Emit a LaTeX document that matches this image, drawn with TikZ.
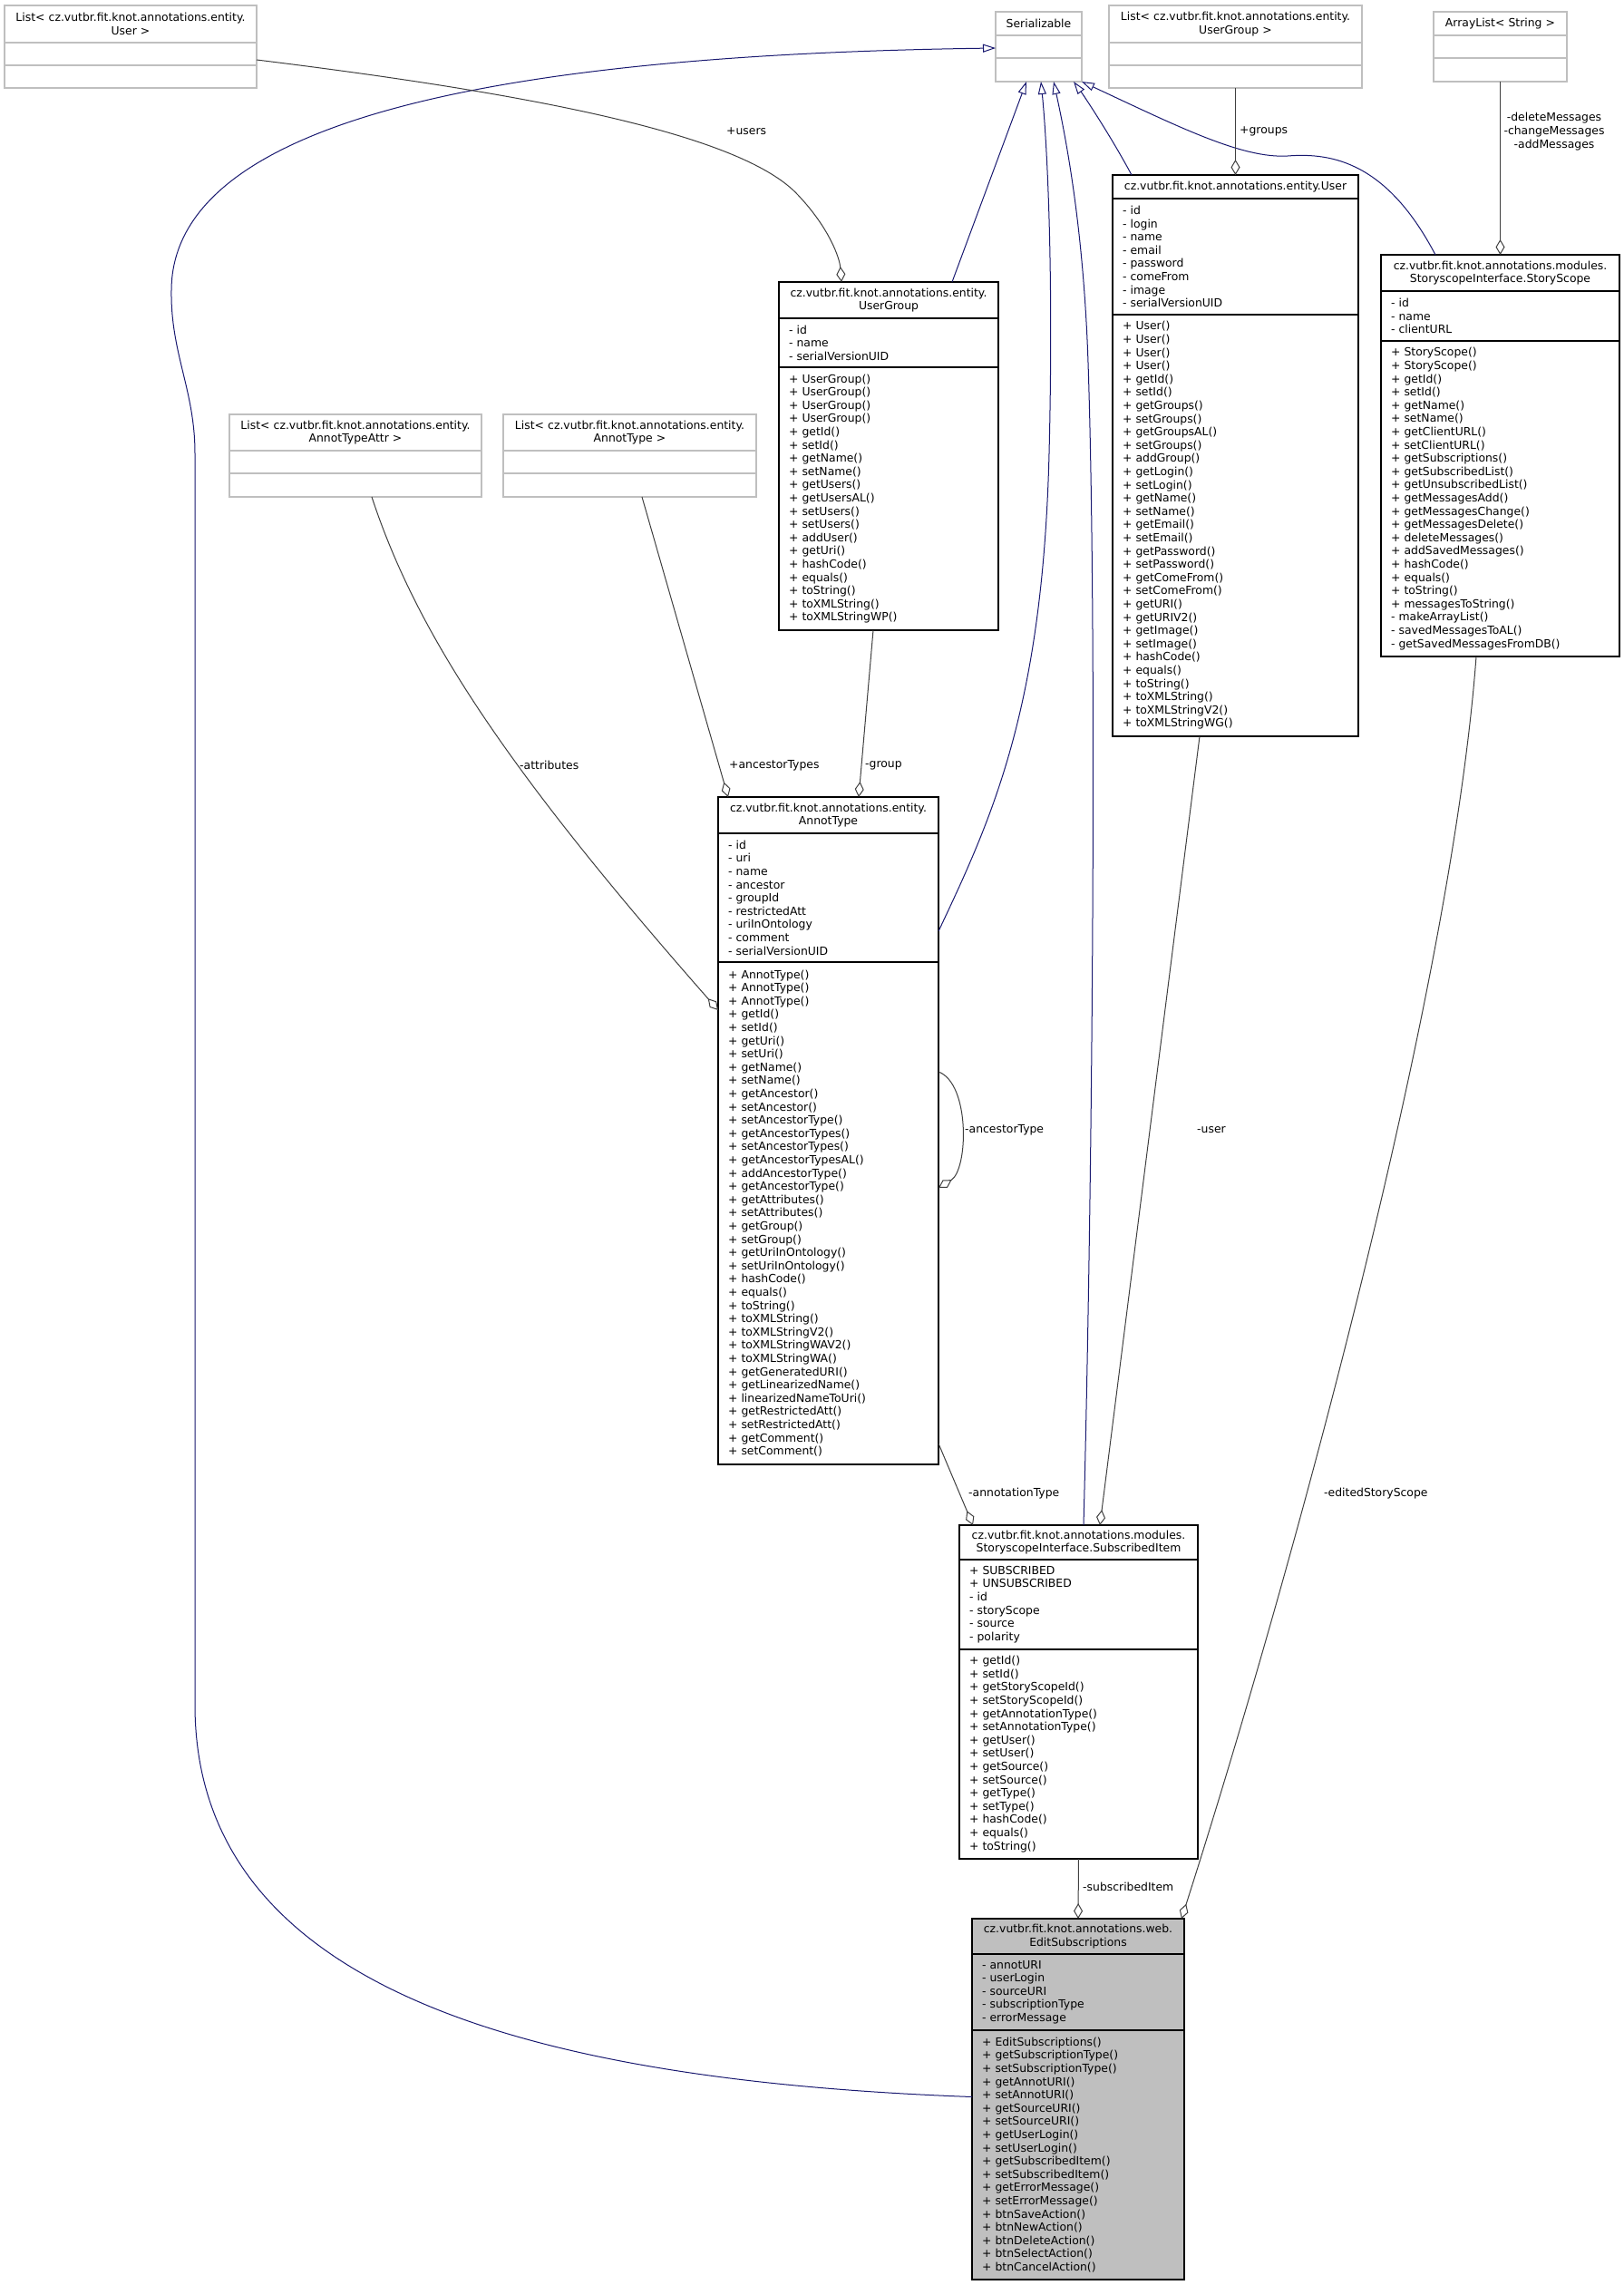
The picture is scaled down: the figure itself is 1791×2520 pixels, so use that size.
\documentclass[tikz,border=0pt]{standalone}
\usepackage{fontspec}
\setmainfont{DejaVu Sans}
\usetikzlibrary{arrows.meta}

\definecolor{navy}{HTML}{191970}
\definecolor{dgray}{HTML}{404040}
\definecolor{lgray}{HTML}{BFBFBF}

\tikzset{
  box/.style={draw=black,line width=1.2pt,fill=white,anchor=north west,
    outer sep=0pt,inner xsep=11pt,inner ysep=2pt,align=left},
  head/.style={box,inner xsep=2pt,align=center},
  ghost/.style={box,draw=lgray},
  ghosthead/.style={head,draw=lgray},
  lbl/.style={anchor=west,inner sep=0pt},
  inh/.style={draw=navy,line width=1pt,-{Triangle[open,length=14pt,width=9pt]}},
  agg/.style={draw=dgray,line width=1pt,-{Diamond[open,length=17pt,width=10pt]}}
}

\begin{document}
\begin{tikzpicture}[x=1pt,y=-1pt,every node/.style={font=\fontsize{12.4}{14.6}\selectfont}]

\useasboundingbox[fill=white] (0,0) rectangle (1791,2520);

% List< User >
\node[ghosthead,text width=274pt,minimum height=41pt]
(lstUsr)
at (5,6)
{List< cz.vutbr.fit.knot.annotations.entity.\\User >};
\node[ghost,text width=256pt,minimum height=25pt] (lstUsrA) at (5,47) {};
\node[ghost,text width=256pt,minimum height=25pt] (lstUsrM) at (5,72) {};

% Serializable
\node[ghosthead,text width=91pt,minimum height=26pt]
(ser)
at (1098,13)
{Serializable};
\node[ghost,text width=73pt,minimum height=25pt] (serA) at (1098,39) {};
\node[ghost,text width=73pt,minimum height=26pt] (serM) at (1098,64) {};

% List< UserGroup >
\node[ghosthead,text width=275pt,minimum height=41pt]
(lstGrp)
at (1223,6)
{List< cz.vutbr.fit.knot.annotations.entity.\\UserGroup >};
\node[ghost,text width=257pt,minimum height=25pt] (lstGrpA) at (1223,47) {};
\node[ghost,text width=257pt,minimum height=25pt] (lstGrpM) at (1223,72) {};

% ArrayList< String >
\node[ghosthead,text width=143pt,minimum height=26pt]
(lstStr)
at (1581,13)
{ArrayList< String >};
\node[ghost,text width=125pt,minimum height=25pt] (lstStrA) at (1581,39) {};
\node[ghost,text width=125pt,minimum height=26pt] (lstStrM) at (1581,64) {};

% List< AnnotTypeAttr >
\node[ghosthead,text width=274pt,minimum height=40pt]
(lstAttr)
at (253,457)
{List< cz.vutbr.fit.knot.annotations.entity.\\AnnotTypeAttr >};
\node[ghost,text width=256pt,minimum height=25pt] (lstAttrA) at (253,497) {};
\node[ghost,text width=256pt,minimum height=26pt] (lstAttrM) at (253,522) {};

% List< AnnotType >
\node[ghosthead,text width=275pt,minimum height=40pt]
(lstType)
at (555,457)
{List< cz.vutbr.fit.knot.annotations.entity.\\AnnotType >};
\node[ghost,text width=257pt,minimum height=25pt] (lstTypeA) at (555,497) {};
\node[ghost,text width=257pt,minimum height=26pt] (lstTypeM) at (555,522) {};

% UserGroup
\node[head,text width=238pt,minimum height=40pt]
(grp)
at (859,311)
{cz.vutbr.fit.knot.annotations.entity.\\UserGroup};
\node[box,text width=220pt,minimum height=54pt]
(grpA)
at (859,351)
{- id\\- name\\- serialVersionUID};
\node[box,text width=220pt,minimum height=290pt]
(grpM)
at (859,405)
{+ UserGroup()\\+ UserGroup()\\+ UserGroup()\\+ UserGroup()\\+ getId()\\+ setId()\\
+ getName()\\+ setName()\\+ getUsers()\\+ getUsersAL()\\+ setUsers()\\+ setUsers()\\
+ addUser()\\+ getUri()\\+ hashCode()\\+ equals()\\+ toString()\\+ toXMLString()\\
+ toXMLStringWP()};

% User
\node[head,text width=267pt,minimum height=26pt]
(usr)
at (1227,193)
{cz.vutbr.fit.knot.annotations.entity.User};
\node[box,text width=249pt,minimum height=128pt]
(usrA)
at (1227,219)
{- id\\- login\\- name\\- email\\- password\\- comeFrom\\- image\\- serialVersionUID};
\node[box,text width=249pt,minimum height=465pt]
(usrM)
at (1227,347)
{+ User()\\+ User()\\+ User()\\+ User()\\+ getId()\\+ setId()\\+ getGroups()\\
+ setGroups()\\+ getGroupsAL()\\+ setGroups()\\+ addGroup()\\+ getLogin()\\
+ setLogin()\\+ getName()\\+ setName()\\+ getEmail()\\+ setEmail()\\
+ getPassword()\\+ setPassword()\\+ getComeFrom()\\+ setComeFrom()\\+ getURI()\\
+ getURIV2()\\+ getImage()\\+ setImage()\\+ hashCode()\\+ equals()\\+ toString()\\
+ toXMLString()\\+ toXMLStringV2()\\+ toXMLStringWG()};

% StoryScope
\node[head,text width=259pt,minimum height=40pt]
(sto)
at (1523,281)
{cz.vutbr.fit.knot.annotations.modules.\\StoryscopeInterface.StoryScope};
\node[box,text width=241pt,minimum height=55pt]
(stoA)
at (1523,321)
{- id\\- name\\- clientURL};
\node[box,text width=241pt,minimum height=348pt]
(stoM)
at (1523,376)
{+ StoryScope()\\+ StoryScope()\\+ getId()\\+ setId()\\+ getName()\\+ setName()\\
+ getClientURL()\\+ setClientURL()\\+ getSubscriptions()\\+ getSubscribedList()\\
+ getUnsubscribedList()\\+ getMessagesAdd()\\+ getMessagesChange()\\
+ getMessagesDelete()\\+ deleteMessages()\\+ addSavedMessages()\\+ hashCode()\\
+ equals()\\+ toString()\\+ messagesToString()\\- makeArrayList()\\
- savedMessagesToAL()\\- getSavedMessagesFromDB()};

% AnnotType
\node[head,text width=239pt,minimum height=40pt]
(atyp)
at (792,879)
{cz.vutbr.fit.knot.annotations.entity.\\AnnotType};
\node[box,text width=221pt,minimum height=142pt]
(atypA)
at (792,919)
{- id\\- uri\\- name\\- ancestor\\- groupId\\- restrictedAtt\\- uriInOntology\\
- comment\\- serialVersionUID};
\node[box,text width=221pt,minimum height=554pt]
(atypM)
at (792,1061)
{+ AnnotType()\\+ AnnotType()\\+ AnnotType()\\+ getId()\\+ setId()\\+ getUri()\\
+ setUri()\\+ getName()\\+ setName()\\+ getAncestor()\\+ setAncestor()\\
+ setAncestorType()\\+ getAncestorTypes()\\+ setAncestorTypes()\\
+ getAncestorTypesAL()\\+ addAncestorType()\\+ getAncestorType()\\
+ getAttributes()\\+ setAttributes()\\+ getGroup()\\+ setGroup()\\
+ getUriInOntology()\\+ setUriInOntology()\\+ hashCode()\\+ equals()\\
+ toString()\\+ toXMLString()\\+ toXMLStringV2()\\+ toXMLStringWAV2()\\
+ toXMLStringWA()\\+ getGeneratedURI()\\+ getLinearizedName()\\
+ linearizedNameToUri()\\+ getRestrictedAtt()\\+ setRestrictedAtt()\\
+ getComment()\\+ setComment()};

% SubscribedItem
\node[head,text width=259pt,minimum height=38pt]
(sub)
at (1058,1682)
{cz.vutbr.fit.knot.annotations.modules.\\StoryscopeInterface.SubscribedItem};
\node[box,text width=241pt,minimum height=99pt]
(subA)
at (1058,1720)
{+ SUBSCRIBED\\+ UNSUBSCRIBED\\- id\\- storyScope\\- source\\- polarity};
\node[box,text width=241pt,minimum height=231pt]
(subM)
at (1058,1819)
{+ getId()\\+ setId()\\+ getStoryScopeId()\\+ setStoryScopeId()\\
+ getAnnotationType()\\+ setAnnotationType()\\+ getUser()\\+ setUser()\\
+ getSource()\\+ setSource()\\+ getType()\\+ setType()\\+ hashCode()\\
+ equals()\\+ toString()};

% EditSubscriptions
\node[head,fill=lgray,text width=230pt,minimum height=39pt]
(edit)
at (1072,2116)
{cz.vutbr.fit.knot.annotations.web.\\EditSubscriptions};
\node[box,fill=lgray,text width=212pt,minimum height=84pt]
(editA)
at (1072,2155)
{- annotURI\\- userLogin\\- sourceURI\\- subscriptionType\\- errorMessage};
\node[box,fill=lgray,text width=212pt,minimum height=275pt]
(editM)
at (1072,2239)
{+ EditSubscriptions()\\+ getSubscriptionType()\\+ setSubscriptionType()\\
+ getAnnotURI()\\+ setAnnotURI()\\+ getSourceURI()\\+ setSourceURI()\\
+ getUserLogin()\\+ setUserLogin()\\+ getSubscribedItem()\\
+ setSubscribedItem()\\+ getErrorMessage()\\+ setErrorMessage()\\
+ btnSaveAction()\\+ btnNewAction()\\+ btnDeleteAction()\\
+ btnSelectAction()\\+ btnCancelAction()};

% inheritance
\draw[inh]
([yshift=64pt]editM.west) .. controls (600,2295) and (215,2200) .. (215,1880)
-- (215,500) .. controls (215,430) and (188,390) .. (189,320)
.. controls (190,120) and (600,60) .. ([yshift=-1.5pt]serA.west);

\draw[inh]
([xshift=70pt]grp.north)--([xshift=-13.5pt]serM.south);

\draw[inh]
([yshift=-37pt]atypA.east) .. controls (1095,900) and (1150,780) .. (1157,500)
.. controls (1162,300) and (1155,160) .. ([xshift=2.5pt]serM.south);

\draw[inh]
([xshift=5.5pt]sub.north) .. controls (1205,1300) and (1210,700) .. (1200,400)
.. controls (1195,250) and (1175,150) .. ([xshift=16.5pt]serM.south);

\draw[inh]
([xshift=-114.5pt]usr.north) .. controls (1225,150) and (1195,105) .. ([xshift=38.5pt]serM.south);

\draw[inh]
([xshift=-71.5pt]sto.north) .. controls (1530,180) and (1470,168) .. (1420,172)
.. controls (1370,175) and (1300,140) .. (serM.south east);

% aggregation
\draw[agg]
([yshift=-6.5pt]lstUsrA.east) .. controls (600,105) and (820,150) .. (880,215)
.. controls (915,252) and (926,285) .. ([xshift=-52pt]grp.north);

\draw[agg]
(lstGrpM.south)--(usr.north);

\draw[agg]
(lstStrM.south)--(sto.north);

\draw[agg]
([xshift=18pt]lstAttrM.south) .. controls (460,700) and (560,850) .. ([yshift=224pt]atypM.west);

\draw[agg]
([xshift=13.5pt]lstTypeM.south)--([xshift=-110.5pt]atyp.north);

\draw[agg]
([xshift=-17pt]grpM.south)--([xshift=33.5pt]atyp.north);

\draw[agg]
([yshift=156pt]atypM.east) .. controls (1070,1195) and (1068,1290) .. ([yshift=28pt]atypM.east);

\draw[agg]
([yshift=23pt]atypM.south east)--([xshift=-116.5pt]sub.north);

\draw[agg]
([xshift=-39.5pt]usrM.south)--([xshift=23.5pt]sub.north);

\draw[agg]
([xshift=-26.5pt]stoM.south) .. controls (1600,1100) and (1420,1750) .. ([xshift=-3pt]edit.north east);

\draw[agg]
(subM.south)--(edit.north);

% role labels
\node[lbl] (lblUsers) at (801,145) {+users};
\node[lbl] (lblGroups) at (1367,145) {+groups};
\node[align=center,inner sep=0pt] (lblMsgs) at (1714,145) {-deleteMessages\\-changeMessages\\-addMessages};
\node[lbl] (lblAttr) at (573,844) {-attributes};
\node[lbl] (lblAnc) at (804,844) {+ancestorTypes};
\node[lbl] (lblGrp) at (954,844) {-group};
\node[lbl] (lblAncT) at (1064,1246) {-ancestorType};
\node[lbl] (lblUser) at (1320,1246) {-user};
\node[lbl] (lblAnnT) at (1068,1647) {-annotationType};
\node[lbl] (lblEdSt) at (1460,1647) {-editedStoryScope};
\node[lbl] (lblSub) at (1194,2081) {-subscribedItem};

\end{tikzpicture}
\end{document}
